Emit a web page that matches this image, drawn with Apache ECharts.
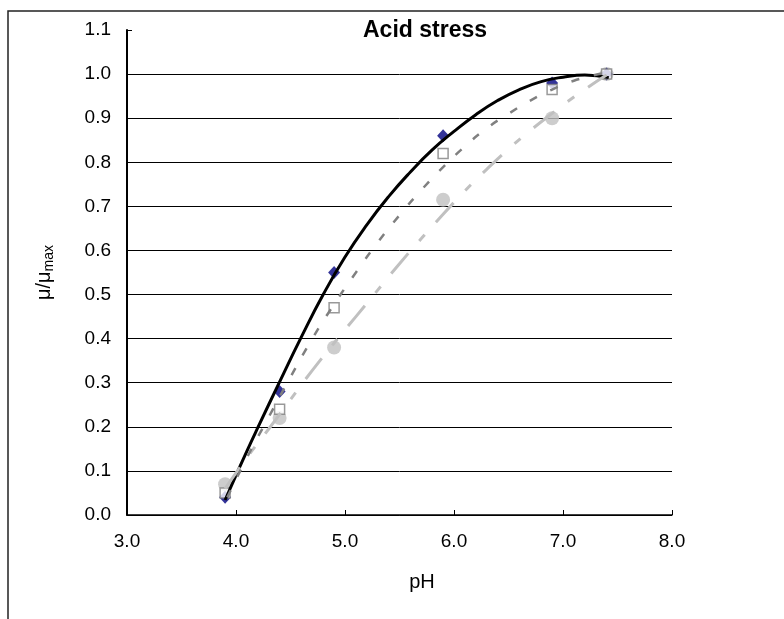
<!DOCTYPE html>
<html>
<head>
<meta charset="utf-8">
<script src="https://cdn.jsdelivr.net/npm/echarts@6/dist/echarts.min.js"></script>
<style>
  html, body { margin: 0; padding: 0; background: #fff; }
  #chart { width: 784px; height: 619px; }
</style>
</head>
<body>
<div id="chart"></div>
<script>
// measured points (pH, mu/mumax)
const phPoints = [3.9, 4.4, 4.9, 5.9, 6.9, 7.4]
const diamondVals = [0.04, 0.28, 0.55, 0.86, 0.98, 1.0]
const squareVals = [0.05, 0.24, 0.47, 0.82, 0.965, 1.0]
const circleVals = [0.07, 0.22, 0.38, 0.715, 0.90, 1.0]

// fitted curves
const blackFit = [
    [3.90, 0.034], [4.00, 0.090], [4.10, 0.145], [4.20, 0.198], [4.40, 0.302],
    [4.60, 0.404], [4.80, 0.500], [5.00, 0.585], [5.20, 0.658], [5.40, 0.722],
    [5.60, 0.778], [5.80, 0.828], [6.00, 0.870], [6.20, 0.908], [6.40, 0.940],
    [6.60, 0.965], [6.80, 0.983], [7.00, 0.993], [7.20, 0.998], [7.42, 0.992]
]
const darkFit = [
    [3.92, 0.040], [4.10, 0.130], [4.30, 0.222], [4.50, 0.313], [4.70, 0.400],
    [4.90, 0.478], [5.10, 0.550], [5.30, 0.618], [5.50, 0.680], [5.70, 0.737],
    [5.90, 0.789], [6.10, 0.836], [6.30, 0.877], [6.50, 0.910], [6.70, 0.940],
    [6.90, 0.965], [7.10, 0.985], [7.37, 1.002]
]
const lightFit = [
    [3.90, 0.060], [4.10, 0.130], [4.30, 0.195], [4.50, 0.262], [4.70, 0.328],
    [4.90, 0.390], [5.10, 0.450], [5.30, 0.510], [5.50, 0.570], [5.70, 0.627],
    [5.90, 0.682], [6.10, 0.735], [6.30, 0.784], [6.50, 0.830], [6.70, 0.872],
    [6.90, 0.911], [7.10, 0.948], [7.30, 0.982], [7.40, 0.998]
]

const font = 'Liberation Sans, Arial, sans-serif'
const pair = vals => phPoints.map((x, i) => [x, vals[i]])

// 12 split lines (0.0 .. 1.1), no line at the top
const gridColors = []
for (let i = 0; i < 12; i++) gridColors.push(i === 11 ? 'rgba(0,0,0,0)' : '#000')

const myChart = echarts.init(document.getElementById('chart'))
myChart.setOption({
    animation: false,
    backgroundColor: '#fff',
    title: {
        text: 'Acid stress',
        left: 358,
        top: 14,
        textStyle: { fontFamily: font, fontSize: 23, fontWeight: 'bold', color: '#000' }
    },
    graphic: [{
        type: 'rect',
        shape: { x: 8, y: 11, width: 900, height: 800 },
        style: { fill: 'none', stroke: '#222', lineWidth: 1.5 },
        silent: true
    }],
    grid: { left: 127, right: 112, top: 30, bottom: 104 },
    xAxis: {
        type: 'value',
        min: 3, max: 8, interval: 1,
        name: 'pH',
        nameLocation: 'middle',
        nameGap: 57,
        nameTextStyle: { fontFamily: font, fontSize: 20, color: '#000', padding: [0, 0, 0, 45] },
        axisLine: { lineStyle: { color: '#000', width: 1.5 } },
        axisTick: { inside: true, length: 5, lineStyle: { color: '#000' } },
        axisLabel: {
            margin: 17,
            fontFamily: font, fontSize: 19, color: '#000',
            formatter: v => v.toFixed(1)
        },
        splitLine: { show: false }
    },
    yAxis: {
        type: 'value',
        min: 0, max: 1.1, interval: 0.1,
        name: '{a|μ/μ}{b|max}',
        nameLocation: 'middle',
        nameGap: 71,
        nameRotate: 90,
        nameTextStyle: {
            fontFamily: font, color: '#000',
            rich: {
                a: { fontFamily: font, fontSize: 20, color: '#000', lineHeight: 24 },
                b: { fontFamily: font, fontSize: 14, color: '#000', verticalAlign: 'bottom', lineHeight: 14 }
            }
        },
        axisLine: { lineStyle: { color: '#000', width: 2 } },
        axisTick: { inside: true, length: 5, lineStyle: { color: '#000' } },
        axisLabel: {
            margin: 16,
            fontFamily: font, fontSize: 19, color: '#000',
            formatter: v => v.toFixed(1)
        },
        splitLine: { show: true, lineStyle: { color: gridColors, width: 1 } }
    },
    series: [
        {
            name: 'circles',
            type: 'scatter',
            symbol: 'circle',
            symbolSize: 14,
            itemStyle: { color: '#c0c0c0' },
            data: pair(circleVals),
            z: 2
        },
        {
            name: 'diamonds',
            type: 'scatter',
            symbol: 'diamond',
            symbolSize: [12, 13],
            itemStyle: { color: '#000080' },
            data: pair(diamondVals),
            z: 3
        },
        {
            name: 'squares',
            type: 'scatter',
            symbol: 'rect',
            symbolSize: 10,
            itemStyle: { color: '#fff', borderColor: '#808080', borderWidth: 1.5 },
            data: pair(squareVals),
            z: 4
        },
        {
            name: 'fit black',
            type: 'line',
            symbol: 'none',
            smooth: true,
            lineStyle: { color: '#000', width: 3 },
            data: blackFit,
            z: 5
        },
        {
            name: 'fit light',
            type: 'line',
            symbol: 'none',
            smooth: true,
            lineStyle: { color: '#c0c0c0', width: 3, type: [26, 17, 8, 17] },
            data: lightFit,
            z: 6
        },
        {
            name: 'fit dark',
            type: 'line',
            symbol: 'none',
            smooth: true,
            lineStyle: { color: '#808080', width: 2.5, type: [8, 15] },
            data: darkFit,
            z: 7
        }
    ]
})
</script>
</body>
</html>
